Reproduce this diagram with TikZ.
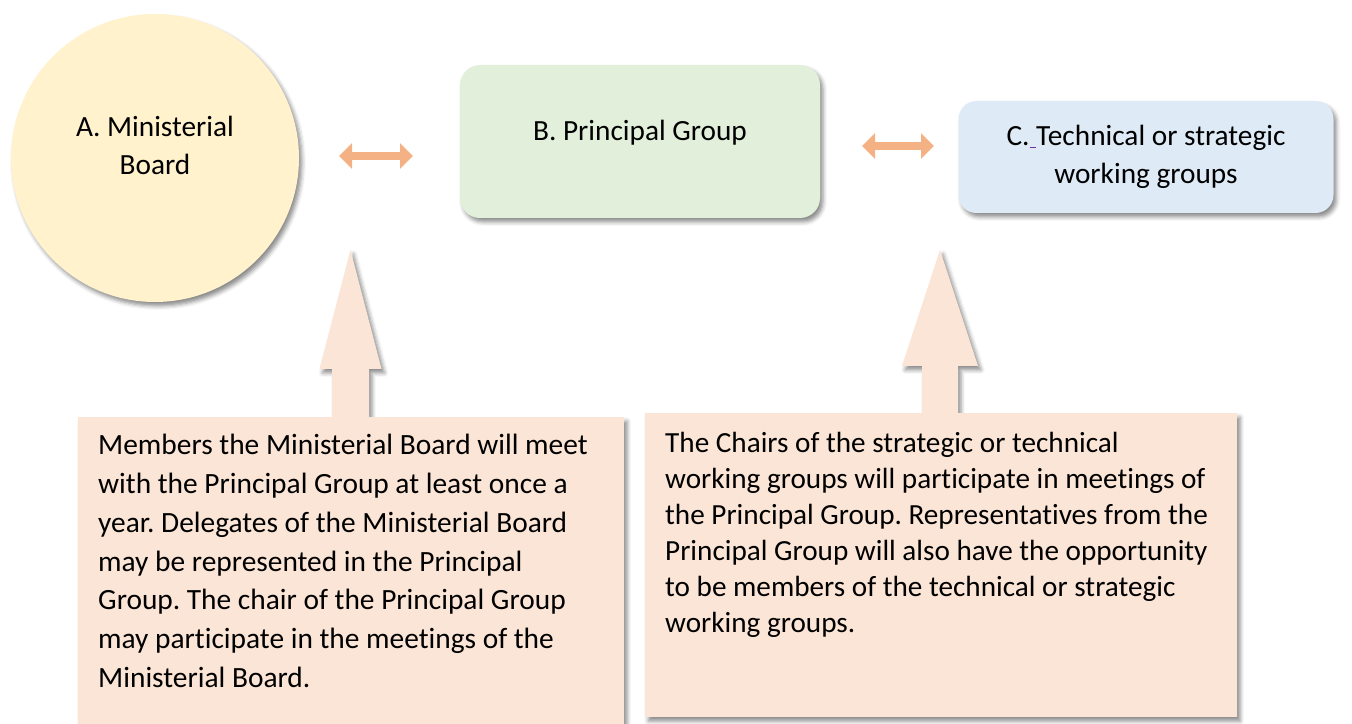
\documentclass[tikz,border=0pt]{standalone}
\usepackage{fontspec}
\setmainfont{Carlito}[Ligatures=NoCommon]
\frenchspacing
\usepackage{tikz}
\usetikzlibrary{arrows.meta,shadows.blur}

\definecolor{boardyellow}{HTML}{FFF2CC}
\definecolor{groupgreen}{HTML}{E2EFDA}
\definecolor{workblue}{HTML}{DEEBF7}
\definecolor{notepeach}{HTML}{FBE5D6}
\definecolor{linkorange}{HTML}{F4B183}
\definecolor{markpurple}{HTML}{7030A0}

\begin{document}
\begin{tikzpicture}[x=1pt, y=1pt,
  soft/.style={blur shadow={shadow xshift=3pt, shadow yshift=-4pt,
    shadow blur radius=4pt, shadow opacity=45}},
  head/.style={font=\fontsize{29.3}{38}\selectfont, align=center, inner sep=0pt},
  panel/.style={rectangle, rounded corners=20pt, soft, inner sep=0pt},
  note/.style={rectangle, fill=notepeach, soft, anchor=north west},
  body/.style={anchor=north west, align=left, inner sep=0pt},
  link/.style={linkorange, line width=8pt,
    {Triangle[width=25pt,length=13pt]}-{Triangle[width=25pt,length=13pt]}}]
\useasboundingbox (0,0) rectangle (1352,723);
\begin {scope}
  \node (board) [circle, fill=boardyellow, minimum size=288pt, inner sep=0pt, soft] at (155,565) {};
  \node (boardtext) [head] at (155,577.5) {A. Ministerial\\Board};
  \node (group) [panel, fill=groupgreen, minimum width=360pt, minimum height=153pt] at (640,581.5) {};
  \node (grouptext) [head] at (640,590) {B. Principal Group};
  \node (work) [panel, head, rounded corners=18pt, fill=workblue, minimum width=375pt, minimum height=112pt]
    at (1146,566) {C.{\color{markpurple}\underline{\ }}Technical or strategic\\working groups};
  \coordinate (boardlink) at (339,567);
  \coordinate (grouplinkl) at (413,567);
  \coordinate (grouplinkr) at (862,577);
  \coordinate (worklink) at (934,577);
  \draw [link] (boardlink) -- (grouplinkl);
  \draw [link] (grouplinkr) -- (worklink);
\end {scope}
\foreach \cx/\sw/\hw/\hy/\by in {350.5/18.5/31/354/306, 940/18/38/357/310}
  \fill [notepeach, soft] (\cx-\sw,\by) -- (\cx-\sw,\hy) -- (\cx-\hw,\hy) -- (\cx,473)
    -- (\cx+\hw,\hy) -- (\cx+\sw,\hy) -- (\cx+\sw,\by) -- cycle;
\begin {scope}
  \node (boardnote) [note, minimum width=546pt, minimum height=320pt] at (78,306) {};
  \node (boardnotetext) [body, font=\fontsize{29.4}{38.8}\selectfont] at (98,289)
    {Members the Ministerial Board will meet\\with the Principal Group at least once a\\year. Delegates of the Ministerial Board\\may be represented in the Principal\\Group. The chair of the Principal Group\\may participate in the meetings of the\\Ministerial Board.};
  \node (worknote) [note, minimum width=592pt, minimum height=304pt] at (645,310) {};
  \node (worknotetext) [body, font=\fontsize{29.2}{36}\selectfont] at (665,291)
    {The Chairs of the strategic or technical\\working groups will participate in meetings of\\the Principal Group. Representatives from the\\Principal Group will also have the opportunity\\to be members of the technical or strategic\\working groups.};
\end {scope}
\end{tikzpicture}
\end{document}
